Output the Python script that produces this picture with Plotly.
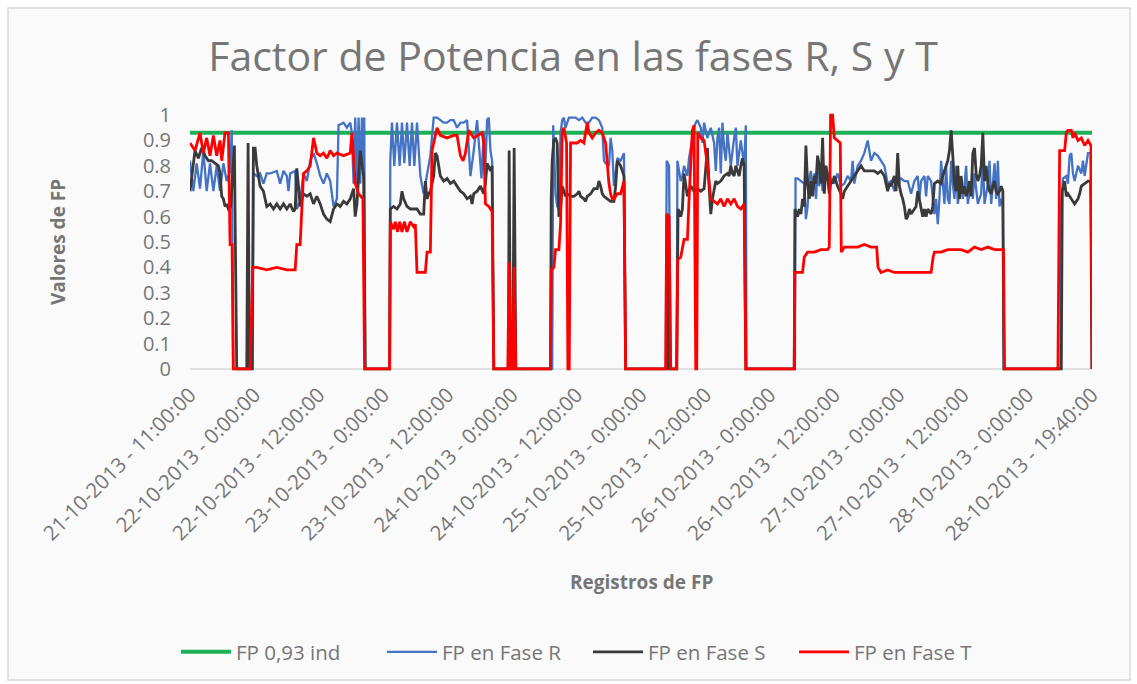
import plotly.graph_objects as go

# ---------------- data ----------------
N_REC = 2702            # record index span of the chart
TICK_STEP = 193         # records between category labels
tick_labels = [
    "21-10-2013 - 11:00:00", "22-10-2013 - 0:00:00", "22-10-2013 - 12:00:00",
    "23-10-2013 - 0:00:00", "23-10-2013 - 12:00:00", "24-10-2013 - 0:00:00",
    "24-10-2013 - 12:00:00", "25-10-2013 - 0:00:00", "25-10-2013 - 12:00:00",
    "26-10-2013 - 0:00:00", "26-10-2013 - 12:00:00", "27-10-2013 - 0:00:00",
    "27-10-2013 - 12:00:00", "28-10-2013 - 0:00:00", "28-10-2013 - 19:40:00",
]
y_ticks = [0, 0.1, 0.2, 0.3, 0.4, 0.5, 0.6, 0.7, 0.8, 0.9, 1]
y_tick_text = ["0", "0.1", "0.2", "0.3", "0.4", "0.5", "0.6", "0.7", "0.8", "0.9", "1"]

FP_REF = 0.93

fase_t = [
    (0,0.89),(15,0.86),(30,0.93),(40,0.85),(50,0.91),(60,0.84),(70,0.92),(80,0.84),(90,0.90),(95,0.82),
    (105,0.93),(115,0.93),(120,0.49),(126,0.49),(130,0.0),(180,0.0),(188,0.40),(200,0.40),(230,0.39),
    (260,0.40),(290,0.39),(315,0.39),(320,0.49),(330,0.49),(340,0.77),(350,0.78),(360,0.80),(370,0.91),
    (380,0.85),(390,0.84),(400,0.85),(410,0.83),(420,0.86),(430,0.84),(440,0.85),(460,0.84),(480,0.85),
    (485,0.93),(495,0.73),(505,0.69),(518,0.67),(523,0.0),(598,0.0),(600,0.58),(610,0.55),(615,0.58),
    (622,0.54),(628,0.58),(635,0.54),(642,0.58),(650,0.54),(660,0.58),(670,0.56),(675,0.57),(680,0.38),
    (705,0.38),(710,0.46),(720,0.46),(725,0.86),(735,0.93),(740,0.95),(750,0.92),(770,0.91),(790,0.92),
    (800,0.92),(810,0.84),(818,0.82),(825,0.85),(835,0.94),(850,0.91),(875,0.93),(880,0.89),(885,0.65),
    (895,0.64),(905,0.62),(910,0.0),(952,0.0),(956,0.42),(960,0.0),(967,0.0),(971,0.40),(976,0.0),
    (1080,0.0),(1082,0.39),(1090,0.40),(1095,0.47),(1105,0.47),(1110,0.57),(1115,0.93),(1120,0.95),
    (1128,0.89),(1132,0.0),(1136,0.0),(1140,0.89),(1150,0.89),(1160,0.89),(1170,0.90),(1180,0.89),
    (1190,0.97),(1195,0.93),(1205,0.91),(1215,0.93),(1225,0.94),(1235,0.93),(1245,0.89),(1250,0.80),
    (1255,0.73),(1260,0.69),(1265,0.67),(1270,0.67),(1275,0.68),(1280,0.69),(1290,0.69),(1300,0.74),
    (1305,0.0),(1425,0.0),(1428,0.61),(1435,0.60),(1440,0.0),(1458,0.0),(1461,0.43),(1470,0.44),
    (1480,0.51),(1490,0.51),(1495,0.67),(1500,0.80),(1505,0.94),(1510,0.96),(1515,0.0),(1518,0.0),
    (1521,0.93),(1530,0.91),(1540,0.90),(1550,0.80),(1560,0.67),(1570,0.66),(1580,0.65),(1590,0.67),
    (1600,0.64),(1610,0.67),(1620,0.65),(1630,0.67),(1640,0.64),(1650,0.63),(1660,0.65),(1665,0.0),
    (1810,0.0),(1812,0.38),(1825,0.38),(1835,0.38),(1840,0.44),(1850,0.46),(1870,0.46),(1890,0.47),
    (1910,0.47),(1915,0.48),(1919,1.00),(1925,1.00),(1930,0.91),(1940,0.90),(1948,0.89),(1951,0.46),
    (1960,0.48),(1980,0.48),(2000,0.48),(2020,0.49),(2040,0.48),(2057,0.48),(2061,0.40),(2070,0.38),
    (2090,0.39),(2110,0.38),(2130,0.38),(2150,0.38),(2170,0.38),(2190,0.38),(2220,0.38),(2226,0.44),
    (2230,0.46),(2250,0.46),(2270,0.47),(2290,0.47),(2310,0.47),(2330,0.46),(2350,0.48),(2370,0.47),
    (2390,0.48),(2410,0.47),(2430,0.47),(2437,0.47),(2440,0.0),(2600,0.0),(2605,0.86),(2620,0.86),
    (2625,0.93),(2630,0.94),(2640,0.94),(2645,0.91),(2650,0.93),(2660,0.90),(2670,0.91),(2680,0.88),
    (2690,0.90),(2699,0.88),(2702,0.0),
]

fase_r = [
    (0,0.82),(10,0.70),(20,0.81),(30,0.71),(40,0.86),(50,0.70),(60,0.81),(70,0.70),(80,0.80),(90,0.70),
    (100,0.81),(110,0.74),(120,0.78),(125,0.94),(129,0.0),(188,0.0),(190,0.77),(200,0.76),(210,0.77),
    (220,0.73),(230,0.77),(240,0.77),(260,0.78),(270,0.73),(280,0.78),(290,0.76),(295,0.70),(300,0.77),
    (315,0.78),(320,0.63),(330,0.66),(340,0.77),(350,0.74),(360,0.82),(370,0.85),(380,0.81),(390,0.76),
    (400,0.73),(410,0.77),(420,0.74),(430,0.64),(440,0.67),(445,0.96),(460,0.97),(470,0.95),(480,0.97),
    (485,0.93),(490,0.73),(495,0.99),(500,0.73),(505,0.99),(510,0.73),(515,0.99),(519,0.80),(522,0.99),
    (525,0.0),(598,0.0),(600,0.82),(605,0.97),(612,0.80),(620,0.97),(628,0.80),(635,0.97),(642,0.81),
    (650,0.97),(658,0.80),(665,0.97),(672,0.80),(680,0.97),(690,0.76),(700,0.69),(710,0.76),(720,0.84),
    (730,0.99),(740,0.99),(750,0.98),(760,0.97),(770,0.97),(780,0.98),(790,0.98),(800,0.95),(810,0.97),
    (820,0.97),(830,0.98),(840,0.76),(850,0.86),(860,0.98),(867,0.86),(873,0.75),(880,0.93),(885,0.80),
    (890,0.98),(895,0.99),(900,0.86),(905,0.82),(910,0.0),(1085,0.0),(1088,0.96),(1095,0.69),(1100,0.64),
    (1105,0.63),(1110,0.93),(1115,0.98),(1120,0.99),(1125,0.95),(1135,0.99),(1145,0.99),(1155,0.99),
    (1165,0.98),(1175,0.99),(1185,0.97),(1195,0.97),(1205,0.99),(1215,0.99),(1225,0.98),(1235,0.95),
    (1240,0.82),(1245,0.81),(1255,0.80),(1260,0.91),(1265,0.86),(1270,0.72),(1275,0.77),(1280,0.83),
    (1290,0.82),(1300,0.85),(1305,0.0),(1425,0.0),(1428,0.82),(1435,0.80),(1440,0.0),(1458,0.0),
    (1460,0.82),(1470,0.74),(1475,0.76),(1480,0.80),(1490,0.76),(1495,0.83),(1510,0.95),(1515,0.97),
    (1520,0.98),(1530,0.95),(1535,0.89),(1540,0.97),(1550,0.91),(1560,0.95),(1570,0.89),(1575,0.78),
    (1580,0.91),(1585,0.95),(1590,0.77),(1595,0.97),(1600,0.87),(1605,0.82),(1610,0.93),(1620,0.80),
    (1630,0.91),(1635,0.95),(1640,0.80),(1650,0.90),(1660,0.80),(1665,0.96),(1667,0.0),(1812,0.0),
    (1814,0.75),(1820,0.75),(1830,0.74),(1840,0.73),(1845,0.59),(1850,0.64),(1855,0.75),(1860,0.78),
    (1865,0.69),(1870,0.77),(1875,0.67),(1880,0.78),(1885,0.72),(1890,0.80),(1895,0.70),(1900,0.80),
    (1910,0.77),(1920,0.75),(1930,0.73),(1940,0.77),(1950,0.72),(1960,0.73),(1970,0.76),(1980,0.74),
    (1985,0.82),(1990,0.73),(2000,0.80),(2010,0.82),(2020,0.85),(2030,0.90),(2035,0.86),(2040,0.82),
    (2050,0.85),(2060,0.84),(2070,0.82),(2080,0.80),(2090,0.73),(2100,0.74),(2110,0.70),(2120,0.74),
    (2130,0.75),(2140,0.74),(2150,0.74),(2160,0.69),(2170,0.74),(2180,0.76),(2185,0.67),(2190,0.74),
    (2200,0.76),(2205,0.68),(2210,0.76),(2220,0.74),(2230,0.61),(2235,0.67),(2240,0.57),(2245,0.67),
    (2250,0.82),(2255,0.73),(2260,0.65),(2265,0.80),(2270,0.67),(2275,0.65),(2280,0.82),(2285,0.73),
    (2290,0.67),(2295,0.80),(2300,0.65),(2310,0.74),(2315,0.67),(2320,0.72),(2325,0.80),(2330,0.65),
    (2340,0.73),(2345,0.67),(2350,0.77),(2360,0.65),(2370,0.69),(2375,0.83),(2380,0.65),(2390,0.73),
    (2395,0.82),(2400,0.65),(2410,0.81),(2415,0.67),(2420,0.82),(2425,0.64),(2430,0.67),(2435,0.64),
    (2438,0.0),(2608,0.0),(2610,0.65),(2615,0.75),(2625,0.76),(2630,0.73),(2635,0.84),(2640,0.85),
    (2645,0.77),(2650,0.74),(2660,0.80),(2670,0.77),(2675,0.82),(2680,0.76),(2685,0.80),(2690,0.85),
    (2698,0.85),(2702,0.0),
]

fase_s = [
    (0,0.70),(8,0.80),(15,0.86),(25,0.83),(35,0.87),(45,0.84),(55,0.82),(65,0.82),(75,0.81),(85,0.80),
    (90,0.77),(95,0.68),(100,0.67),(105,0.64),(110,0.65),(115,0.63),(122,0.64),(133,0.88),(136,0.48),
    (140,0.0),(170,0.0),(174,0.89),(178,0.0),(186,0.0),(190,0.87),(195,0.87),(200,0.80),(210,0.72),
    (220,0.70),(230,0.64),(240,0.65),(250,0.63),(260,0.65),(270,0.63),(280,0.65),(290,0.63),(300,0.65),
    (310,0.62),(315,0.63),(320,0.79),(325,0.72),(330,0.64),(340,0.69),(350,0.68),(360,0.69),(370,0.65),
    (380,0.68),(390,0.65),(400,0.61),(410,0.59),(420,0.58),(430,0.63),(440,0.65),(450,0.64),(460,0.66),
    (470,0.65),(480,0.67),(490,0.71),(495,0.60),(500,0.65),(510,0.86),(515,0.81),(520,0.76),(525,0.0),
    (598,0.0),(600,0.63),(610,0.64),(620,0.63),(630,0.65),(635,0.70),(640,0.67),(650,0.64),(660,0.63),
    (670,0.63),(680,0.63),(690,0.61),(700,0.61),(705,0.74),(710,0.67),(715,0.69),(720,0.70),(730,0.76),
    (735,0.85),(740,0.84),(750,0.76),(760,0.74),(770,0.75),(780,0.73),(790,0.74),(800,0.72),(810,0.70),
    (820,0.69),(830,0.67),(840,0.68),(845,0.65),(850,0.69),(860,0.70),(870,0.72),(880,0.69),(885,0.73),
    (890,0.81),(900,0.78),(905,0.80),(910,0.0),(954,0.0),(956,0.86),(960,0.0),(967,0.0),(971,0.87),
    (976,0.0),(1080,0.0),(1082,0.67),(1085,0.82),(1090,0.90),(1095,0.91),(1100,0.89),(1105,0.60),
    (1110,0.63),(1115,0.72),(1120,0.70),(1125,0.68),(1130,0.69),(1140,0.68),(1150,0.68),(1160,0.69),
    (1165,0.70),(1170,0.68),(1180,0.67),(1185,0.66),(1190,0.68),(1200,0.69),(1210,0.71),(1220,0.71),
    (1225,0.74),(1230,0.72),(1235,0.69),(1240,0.68),(1250,0.67),(1260,0.66),(1270,0.66),(1275,0.72),
    (1280,0.82),(1290,0.80),(1295,0.78),(1300,0.76),(1305,0.0),(1430,0.0),(1432,0.61),(1438,0.0),
    (1458,0.0),(1462,0.63),(1470,0.60),(1475,0.63),(1480,0.77),(1490,0.68),(1500,0.72),(1510,0.70),
    (1520,0.71),(1530,0.70),(1540,0.71),(1550,0.87),(1555,0.72),(1560,0.61),(1565,0.67),(1570,0.70),
    (1575,0.74),(1580,0.73),(1590,0.74),(1600,0.76),(1610,0.77),(1615,0.76),(1620,0.80),(1625,0.77),
    (1630,0.76),(1635,0.80),(1640,0.78),(1645,0.76),(1650,0.80),(1655,0.83),(1660,0.80),(1665,0.0),
    (1810,0.0),(1812,0.63),(1820,0.60),(1825,0.63),(1830,0.61),(1835,0.67),(1840,0.64),(1845,0.88),
    (1850,0.73),(1855,0.67),(1860,0.74),(1865,0.68),(1870,0.76),(1875,0.73),(1880,0.84),(1885,0.80),
    (1890,0.73),(1895,0.91),(1900,0.69),(1905,0.80),(1910,0.76),(1915,0.69),(1920,0.74),(1925,0.73),
    (1930,0.76),(1940,0.72),(1950,0.69),(1955,0.67),(1960,0.70),(1970,0.72),(1980,0.74),(1990,0.76),
    (2000,0.78),(2010,0.80),(2020,0.78),(2030,0.78),(2040,0.78),(2050,0.78),(2060,0.77),(2070,0.78),
    (2080,0.76),(2090,0.70),(2095,0.73),(2100,0.72),(2110,0.76),(2115,0.70),(2120,0.85),(2125,0.72),
    (2130,0.69),(2135,0.67),(2140,0.64),(2145,0.59),(2150,0.60),(2155,0.63),(2160,0.61),(2170,0.63),
    (2175,0.64),(2180,0.70),(2190,0.63),(2195,0.60),(2200,0.63),(2205,0.60),(2210,0.63),(2220,0.61),
    (2225,0.64),(2230,0.73),(2240,0.74),(2250,0.73),(2255,0.76),(2260,0.78),(2265,0.80),(2270,0.82),
    (2275,0.86),(2280,0.94),(2285,0.84),(2290,0.73),(2295,0.70),(2300,0.80),(2305,0.67),(2310,0.76),
    (2315,0.69),(2320,0.72),(2325,0.68),(2330,0.70),(2335,0.74),(2340,0.68),(2345,0.85),(2350,0.87),
    (2355,0.77),(2360,0.74),(2365,0.76),(2370,0.80),(2375,0.93),(2380,0.74),(2385,0.80),(2390,0.73),
    (2395,0.70),(2400,0.69),(2405,0.72),(2410,0.74),(2415,0.70),(2420,0.69),(2425,0.70),(2430,0.72),
    (2435,0.70),(2438,0.0),(2610,0.0),(2613,0.70),(2620,0.74),(2625,0.68),(2630,0.69),(2640,0.67),
    (2650,0.65),(2660,0.67),(2665,0.69),(2670,0.72),(2680,0.73),(2690,0.74),(2698,0.74),(2702,0.0),
]

# ---------------- figure ----------------
W, H = 1137, 684
ML, MR, MT, MB = 190, 45, 112, 312
PW, PH = W - ML - MR, H - MT - MB
Y0, Y1 = -0.012, 1.012
GREY = "#767676"
FONT = "Open Sans"


def px_to_paper_x(px):
    return (px - ML) / PW


def py_to_paper_y(py):
    return (H - MB - py) / PH


fig = go.Figure()
fig.add_trace(go.Scatter(x=[0, N_REC], y=[FP_REF, FP_REF], mode="lines",
                         name="FP 0,93 ind", line=dict(color="#1DB156", width=4)))
for name, series, color, width in [
    ("FP en Fase R", fase_r, "#4472C4", 2.3),
    ("FP en Fase S", fase_s, "#3A3A3A", 2.8),
    ("FP en Fase T", fase_t, "#FF0000", 2.8),
]:
    fig.add_trace(go.Scatter(x=[p[0] for p in series], y=[p[1] for p in series],
                             mode="lines", name=name,
                             line=dict(color=color, width=width)))

fig.update_layout(
    width=W, height=H, autosize=False,
    margin=dict(l=ML, r=MR, t=MT, b=MB, pad=0),
    paper_bgcolor="white", plot_bgcolor="rgba(0,0,0,0)",
    font=dict(family=FONT, color=GREY),
    title=dict(text="Factor de Potencia en las fases R, S y T",
               font=dict(family=FONT, size=41, color=GREY),
               x=573 / W, xanchor="center", xref="container",
               y=1 - 57 / H, yanchor="middle", yref="container"),
    xaxis=dict(range=[0, N_REC], showgrid=False, zeroline=False, showline=False,
               tickvals=[i * TICK_STEP for i in range(len(tick_labels))],
               ticktext=tick_labels, tickangle=-45, ticks="",
               tickfont=dict(family=FONT, size=20.5, color=GREY),
               ticklabelstandoff=6, automargin=False),
    yaxis=dict(range=[Y0, Y1], showgrid=False, zeroline=False, showline=False,
               tickvals=y_ticks, ticktext=y_tick_text, ticks="",
               tickfont=dict(family=FONT, size=20, color=GREY),
               ticklabelstandoff=18, automargin=False),
    legend=dict(orientation="h", xref="container", yref="container",
                x=176 / W, xanchor="left", y=1 - 652 / H, yanchor="middle",
                font=dict(family=FONT, size=20.5, color=GREY),
                bgcolor="rgba(0,0,0,0)", itemwidth=50, entrywidth=141),
    showlegend=True,
)

# chart-area frame and horizontal axis line
fig.add_shape(type="rect", xref="paper", yref="paper",
              x0=px_to_paper_x(8), x1=px_to_paper_x(1130),
              y0=py_to_paper_y(680), y1=py_to_paper_y(8),
              line=dict(color="#D9D9D9", width=1.5), fillcolor="#FAFAFA", layer="below")
fig.add_shape(type="line", xref="x", yref="y", x0=0, x1=N_REC, y0=0, y1=0,
              line=dict(color="#D9D9D9", width=1.5), layer="below")

fig.add_annotation(text="<b>Valores de FP</b>", xref="paper", yref="paper",
                   x=px_to_paper_x(58), y=py_to_paper_y(242), textangle=-90,
                   showarrow=False, font=dict(family=FONT, size=19, color=GREY),
                   xanchor="center", yanchor="middle")
fig.add_annotation(text="<b>Registros de FP</b>", xref="paper", yref="paper",
                   x=px_to_paper_x(641), y=py_to_paper_y(582),
                   showarrow=False, font=dict(family=FONT, size=19, color=GREY),
                   xanchor="center", yanchor="middle")

fig.write_html("out.html", config={"displayModeBar": False},
               post_script="document.body.style.margin='0';")
